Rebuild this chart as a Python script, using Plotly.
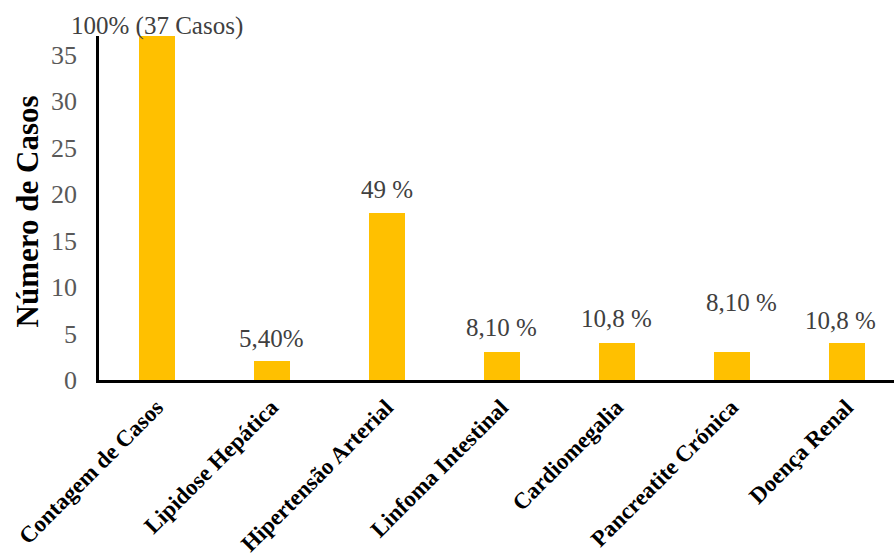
import plotly.graph_objects as go

categories = ["Contagem de Casos", "Lipidose Hepática", "Hipertensão Arterial",
              "Linfoma Intestinal", "Cardiomegalia", "Pancreatite Crónica", "Doença Renal"]
values = [37, 2, 18, 3, 4, 3, 4]
labels = ["100% (37 Casos)", "5,40%", "49 %", "8,10 %", "10,8 %", "8,10 %", "10,8 %"]
y_ticks = [0, 5, 10, 15, 20, 25, 30, 35]

# label placement offsets (px) above the bar top, and horizontal nudges
label_dy = [10, 23, 23, 25, 24, 50, 22]
label_dx = [0, 0, 0, 0, 0, 10, -6]

BAR_COLOR = "#FFC000"
SERIF = "Liberation Serif"

fig = go.Figure()
fig.add_trace(go.Bar(
    x=categories, y=values, marker=dict(color=BAR_COLOR, line=dict(width=0)),
    width=0.313, hoverinfo="skip",
))

for c, v, t, dy, dx in zip(categories, values, labels, label_dy, label_dx):
    fig.add_annotation(x=c, y=v, text=t, showarrow=False, xref="x", yref="y",
                       yanchor="middle", xanchor="center", yshift=dy, xshift=dx,
                       font=dict(family=SERIF, size=25, color="#404040"))

fig.add_annotation(text="<b>Número de Casos</b>", textangle=-90, showarrow=False,
                   xref="paper", yref="paper", x=-0.0906, y=0.49,
                   xanchor="center", yanchor="middle",
                   font=dict(family=SERIF, size=31, color="black"))

fig.update_layout(
    width=894, height=559,
    margin=dict(l=99, r=0, t=36, b=179, autoexpand=False),
    plot_bgcolor="white", paper_bgcolor="white",
    showlegend=False,
    bargap=0,
)
fig.update_xaxes(
    type="category", range=[-0.5, 6.413], automargin=False,
    showline=True, linecolor="black", linewidth=2.5,
    showgrid=False, ticks="", tickangle=-45,
    tickfont=dict(family=SERIF, size=23, color="black", weight="bold"),
    ticklabelstandoff=2,
)
fig.update_yaxes(
    range=[0, 37], tickvals=y_ticks, automargin=False,
    showline=True, linecolor="black", linewidth=2.5,
    showgrid=False, zeroline=False, ticks="",
    tickfont=dict(family=SERIF, size=26, color="#595959"),
    ticklabelstandoff=14,
)

fig.write_html("out.html")
